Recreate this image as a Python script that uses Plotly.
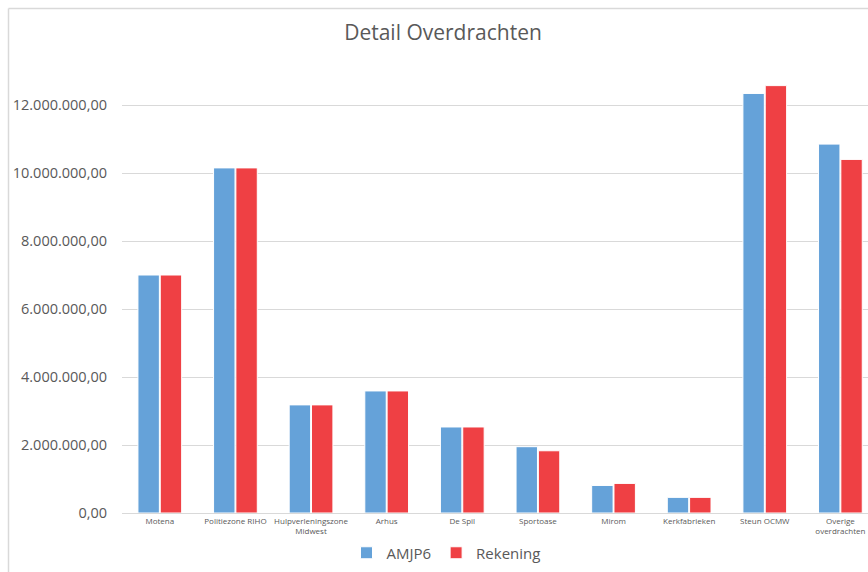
import plotly.graph_objects as go

categories = ["Motena", "Politiezone RIHO", "Hulpverleningszone<br>Midwest", "Arhus", "De Spil",
              "Sportoase", "Mirom", "Kerkfabrieken", "Steun OCMW", "Overige<br>overdrachten"]
amjp6 = [7000000, 10150000, 3180000, 3590000, 2530000, 1950000, 810000, 460000, 12340000, 10850000]
rekening = [7000000, 10150000, 3180000, 3590000, 2530000, 1830000, 870000, 460000, 12570000, 10400000]
y_ticks = [0, 2000000, 4000000, 6000000, 8000000, 10000000, 12000000]

W, H = 868, 572
L, R, T, B = 122, 0, 71, 59
pw, ph = W - L - R, H - T - B

def px2x(px):
    return (px - L) / pw

def px2y(py):
    return (H - B - py) / ph

fig = go.Figure()
fig.add_bar(x=list(range(len(categories))), y=amjp6, name="AMJP6",
            marker=dict(color="#65A2D9", line=dict(color="white", width=1)))
fig.add_bar(x=list(range(len(categories))), y=rekening, name="Rekening",
            marker=dict(color="#EF4044", line=dict(color="white", width=1)))

fig.update_layout(
    width=W, height=H,
    margin=dict(l=L, r=R, t=T, b=B),
    paper_bgcolor="white", plot_bgcolor="white",
    barmode="group", bargap=0.41, bargroupgap=0.04,
    separators=",.",
    font=dict(family="Open Sans, Noto Sans, sans-serif", color="#595959"),
    title=dict(text="Detail Overdrachten", x=443 / W, xanchor="center", xref="container",
               y=1 - 33 / H, yanchor="middle", yref="container",
               font=dict(size=21, color="#595959", family="Open Sans, sans-serif")),
    legend=dict(orientation="h", x=446 / W, xanchor="center", xref="container",
                y=1 - 553 / H, yanchor="middle", yref="container",
                font=dict(size=15, color="#595959"), itemwidth=30, traceorder="normal"),
    showlegend=True,
)
fig.update_xaxes(
    range=[-0.5, 9.365], tickmode="array", tickvals=list(range(len(categories))),
    ticktext=categories, tickfont=dict(size=8, color="#595959"),
    showgrid=False, showline=True, linecolor="#D9D9D9", linewidth=1, ticks="", tickangle=0,
)
fig.update_yaxes(
    range=[0, 13000000], tickvals=y_ticks, tickformat=",.2f",
    tickfont=dict(size=14.5, color="#595959"), showgrid=True, gridcolor="#D9D9D9", gridwidth=1,
    zeroline=False, showline=False, ticks="", ticklabelstandoff=14,
)
# chart border (top and left edges visible)
fig.add_shape(type="line", xref="paper", yref="paper", x0=px2x(8.5), x1=px2x(W + 5),
              y0=px2y(8.5), y1=px2y(8.5), line=dict(color="#D9D9D9", width=1.5))
fig.add_shape(type="line", xref="paper", yref="paper", x0=px2x(8.5), x1=px2x(8.5),
              y0=px2y(8.5), y1=px2y(H + 5), line=dict(color="#D9D9D9", width=1.5))

fig.write_html("out.html", config={"displayModeBar": False},
               post_script="document.body.style.margin='0';document.body.style.overflow='hidden';")
